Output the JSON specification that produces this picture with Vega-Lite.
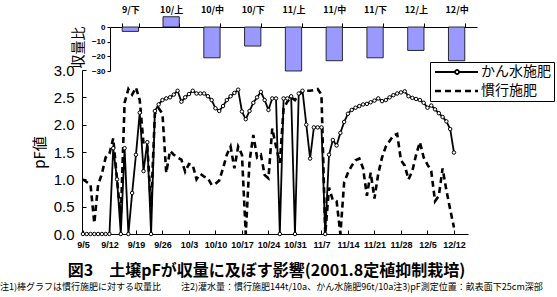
{
  "$schema": "https://vega.github.io/schema/vega-lite/v6.json",
  "width": 386,
  "height": 207,
  "autosize": {"type": "none"},
  "padding": {"left": 82, "top": 27, "right": 89, "bottom": 63},
  "background": "white",
  "config": {
    "view": {"stroke": null},
    "font": "Noto Sans CJK JP",
    "axis": {"domainColor": "black", "tickColor": "black", "labelColor": "black", "titleColor": "black", "grid": false, "labelOverlap": false}
  },
  "title": {
    "text": "注1)棒グラフは慣行施肥に対する収量比　　 注2)灌水量：慣行施肥144t/10a、かん水施肥96t/10a注3)pF測定位置：畝表面下25cm深部",
    "orient": "bottom",
    "anchor": "start",
    "frame": "group",
    "dx": -82,
    "offset": 5,
    "fontSize": 9,
    "fontWeight": "normal",
    "font": "Noto Sans CJK JP",
    "color": "black"
  },
  "datasets": {
    "yield": [
      {"period": "9/下", "ratio": -3},
      {"period": "10/上", "ratio": 7},
      {"period": "10/中", "ratio": -21},
      {"period": "10/下", "ratio": -13},
      {"period": "11/上", "ratio": -30},
      {"period": "11/中", "ratio": -23},
      {"period": "11/下", "ratio": -21},
      {"period": "12/上", "ratio": -16},
      {"period": "12/中", "ratio": -23}
    ],
    "pf": [
      {"date": "2001-09-05", "かん水施肥": 0, "慣行施肥": 1.00},
      {"date": "2001-09-06", "かん水施肥": 0, "慣行施肥": 0.95},
      {"date": "2001-09-07", "かん水施肥": 0, "慣行施肥": 0.90},
      {"date": "2001-09-08", "かん水施肥": 0, "慣行施肥": 0.20},
      {"date": "2001-09-09", "かん水施肥": 0, "慣行施肥": 0.90},
      {"date": "2001-09-10", "かん水施肥": 0, "慣行施肥": 1.10},
      {"date": "2001-09-11", "かん水施肥": 0, "慣行施肥": 1.40},
      {"date": "2001-09-12", "かん水施肥": 0, "慣行施肥": 1.47},
      {"date": "2001-09-13", "かん水施肥": 1.57, "慣行施肥": 1.75},
      {"date": "2001-09-14", "かん水施肥": 1.00, "慣行施肥": 1.00},
      {"date": "2001-09-15", "かん水施肥": 0, "慣行施肥": 0.30},
      {"date": "2001-09-16", "かん水施肥": 1.57, "慣行施肥": 2.40},
      {"date": "2001-09-17", "かん水施肥": 0, "慣行施肥": 2.65},
      {"date": "2001-09-18", "かん水施肥": 0.75, "慣行施肥": 2.55},
      {"date": "2001-09-19", "かん水施肥": 1.45, "慣行施肥": 2.68},
      {"date": "2001-09-20", "かん水施肥": 2.22, "慣行施肥": 2.45},
      {"date": "2001-09-21", "かん水施肥": 1.15, "慣行施肥": 1.65},
      {"date": "2001-09-22", "かん水施肥": 1.68, "慣行施肥": 1.60},
      {"date": "2001-09-23", "かん水施肥": 0, "慣行施肥": 0.50},
      {"date": "2001-09-24", "かん水施肥": 2.25, "慣行施肥": 2.20},
      {"date": "2001-09-25", "かん水施肥": 2.37, "慣行施肥": 2.30},
      {"date": "2001-09-26", "かん水施肥": 2.45, "慣行施肥": 2.20},
      {"date": "2001-09-27", "かん水施肥": 2.48, "慣行施肥": 1.12},
      {"date": "2001-09-28", "かん水施肥": 2.50, "慣行施肥": 1.52},
      {"date": "2001-09-29", "かん水施肥": 2.55, "慣行施肥": 1.45},
      {"date": "2001-09-30", "かん水施肥": 2.62, "慣行施肥": 1.40},
      {"date": "2001-10-01", "かん水施肥": 2.42, "慣行施肥": 1.36},
      {"date": "2001-10-02", "かん水施肥": 2.50, "慣行施肥": 1.14},
      {"date": "2001-10-03", "かん水施肥": 2.56, "慣行施肥": 1.28},
      {"date": "2001-10-04", "かん水施肥": 2.62, "慣行施肥": 1.26},
      {"date": "2001-10-05", "かん水施肥": 2.57, "慣行施肥": 1.00},
      {"date": "2001-10-06", "かん水施肥": 2.57, "慣行施肥": 1.10},
      {"date": "2001-10-07", "かん水施肥": 2.57, "慣行施肥": 1.05},
      {"date": "2001-10-08", "かん水施肥": 2.52, "慣行施肥": 1.02},
      {"date": "2001-10-09", "かん水施肥": 2.45, "慣行施肥": 0.90},
      {"date": "2001-10-10", "かん水施肥": 2.30, "慣行施肥": 0.92},
      {"date": "2001-10-11", "かん水施肥": 2.25, "慣行施肥": 0.98},
      {"date": "2001-10-12", "かん水施肥": 2.34, "慣行施肥": 1.20},
      {"date": "2001-10-13", "かん水施肥": 2.45, "慣行施肥": 1.45},
      {"date": "2001-10-14", "かん水施肥": 2.52, "慣行施肥": 1.60},
      {"date": "2001-10-15", "かん水施肥": 2.58, "慣行施肥": 1.20},
      {"date": "2001-10-16", "かん水施肥": 2.64, "慣行施肥": 1.60},
      {"date": "2001-10-17", "かん水施肥": 2.24, "慣行施肥": 1.45},
      {"date": "2001-10-18", "かん水施肥": 2.10, "慣行施肥": 0.00},
      {"date": "2001-10-19", "かん水施肥": 2.25, "慣行施肥": 1.33},
      {"date": "2001-10-20", "かん水施肥": 2.40, "慣行施肥": 1.81},
      {"date": "2001-10-21", "かん水施肥": 2.50, "慣行施肥": 1.40},
      {"date": "2001-10-22", "かん水施肥": 2.60, "慣行施肥": 1.45},
      {"date": "2001-10-23", "かん水施肥": 2.45, "慣行施肥": 1.08},
      {"date": "2001-10-24", "かん水施肥": 2.27, "慣行施肥": 1.02},
      {"date": "2001-10-25", "かん水施肥": 2.48, "慣行施肥": 1.93},
      {"date": "2001-10-26", "かん水施肥": 2.48, "慣行施肥": 1.60},
      {"date": "2001-10-27", "かん水施肥": 0, "慣行施肥": 1.30},
      {"date": "2001-10-28", "かん水施肥": 2.48, "慣行施肥": 2.30},
      {"date": "2001-10-29", "かん水施肥": 2.48, "慣行施肥": 2.42},
      {"date": "2001-10-30", "かん水施肥": 2.52, "慣行施肥": 2.50},
      {"date": "2001-10-31", "かん水施肥": 0, "慣行施肥": 2.45},
      {"date": "2001-11-01", "かん水施肥": 2.57, "慣行施肥": 2.55},
      {"date": "2001-11-02", "かん水施肥": 2.62, "慣行施肥": 2.60},
      {"date": "2001-11-03", "かん水施肥": 2.00, "慣行施肥": 2.62},
      {"date": "2001-11-04", "かん水施肥": 1.38, "慣行施肥": 2.62},
      {"date": "2001-11-05", "かん水施肥": 1.95, "慣行施肥": 2.63},
      {"date": "2001-11-06", "かん水施肥": 1.95, "慣行施肥": 2.65},
      {"date": "2001-11-07", "かん水施肥": 1.95, "慣行施肥": 2.55},
      {"date": "2001-11-08", "かん水施肥": 0, "慣行施肥": 0.00},
      {"date": "2001-11-09", "かん水施肥": 1.45, "慣行施肥": 0.85},
      {"date": "2001-11-10", "かん水施肥": 1.72, "慣行施肥": 0.62},
      {"date": "2001-11-11", "かん水施肥": 1.62, "慣行施肥": 0.60},
      {"date": "2001-11-12", "かん水施肥": 1.85, "慣行施肥": 0.00},
      {"date": "2001-11-13", "かん水施肥": 2.05, "慣行施肥": 0.95},
      {"date": "2001-11-14", "かん水施肥": 2.20, "慣行施肥": 1.12},
      {"date": "2001-11-15", "かん水施肥": 2.27, "慣行施肥": 1.25},
      {"date": "2001-11-16", "かん水施肥": 2.31, "慣行施肥": 1.35},
      {"date": "2001-11-17", "かん水施肥": 2.34, "慣行施肥": 1.38},
      {"date": "2001-11-18", "かん水施肥": 2.37, "慣行施肥": 1.20},
      {"date": "2001-11-19", "かん水施肥": 2.38, "慣行施肥": 0.70},
      {"date": "2001-11-20", "かん水施肥": 2.41, "慣行施肥": 1.12},
      {"date": "2001-11-21", "かん水施肥": 2.44, "慣行施肥": 0.65},
      {"date": "2001-11-22", "かん水施肥": 2.48, "慣行施肥": 1.10},
      {"date": "2001-11-23", "かん水施肥": 2.43, "慣行施肥": 1.40},
      {"date": "2001-11-24", "かん水施肥": 2.45, "慣行施肥": 1.60},
      {"date": "2001-11-25", "かん水施肥": 2.50, "慣行施肥": 1.70},
      {"date": "2001-11-26", "かん水施肥": 2.54, "慣行施肥": 1.80},
      {"date": "2001-11-27", "かん水施肥": 2.57, "慣行施肥": 1.83},
      {"date": "2001-11-28", "かん水施肥": 2.59, "慣行施肥": 1.35},
      {"date": "2001-11-29", "かん水施肥": 2.61, "慣行施肥": 1.25},
      {"date": "2001-11-30", "かん水施肥": 2.52, "慣行施肥": 1.00},
      {"date": "2001-12-01", "かん水施肥": 2.49, "慣行施肥": 1.15},
      {"date": "2001-12-02", "かん水施肥": 2.47, "慣行施肥": 1.45},
      {"date": "2001-12-03", "かん水施肥": 2.45, "慣行施肥": 1.68},
      {"date": "2001-12-04", "かん水施肥": 2.40, "慣行施肥": 1.40},
      {"date": "2001-12-05", "かん水施肥": 2.31, "慣行施肥": 1.27},
      {"date": "2001-12-06", "かん水施肥": 2.35, "慣行施肥": 1.15},
      {"date": "2001-12-07", "かん水施肥": 2.28, "慣行施肥": 0.60},
      {"date": "2001-12-08", "かん水施肥": 2.21, "慣行施肥": 0.70},
      {"date": "2001-12-09", "かん水施肥": 2.14, "慣行施肥": 1.20},
      {"date": "2001-12-10", "かん水施肥": 2.06, "慣行施肥": 0.80},
      {"date": "2001-12-11", "かん水施肥": 1.92, "慣行施肥": 0.45},
      {"date": "2001-12-12", "かん水施肥": 1.49, "慣行施肥": 0.12}
    ]
  },
  "layer": [
    {
      "data": {"name": "yield"},
      "mark": {"type": "bar", "fill": "#9999ff", "stroke": "black", "strokeWidth": 0.8},
      "encoding": {
        "x": {
          "field": "period", "type": "nominal", "sort": null,
          "scale": {"domain": ["9/下", "10/上", "10/中", "10/下", "11/上", "11/中", "11/下", "12/上", "12/中"], "range": [28, 395], "paddingInner": 0.6, "paddingOuter": 0.3},
          "axis": {"orient": "top", "title": null, "labelAngle": 0, "labelFontSize": 9, "labelFontWeight": "bold", "labelFont": "Noto Sans CJK JP", "labelPadding": 9, "tickSize": 4, "tickBand": "extent"}
        },
        "y": {
          "field": "ratio", "type": "quantitative",
          "scale": {"domain": [-30, 0], "range": [44, 0], "nice": false},
          "axis": {"orient": "left", "offset": -28, "values": [0, -10, -20, -30], "labelOverlap": false, "labelFontSize": 8, "labelFontWeight": "bold", "labelFont": "Liberation Sans", "labelPadding": 2, "tickSize": 3, "title": "収量比", "titleY": 20, "titleFontSize": 14, "titleFontWeight": "normal", "titlePadding": 6}
        }
      }
    },
    {
      "data": {"name": "pf"},
      "transform": [{"fold": ["慣行施肥", "かん水施肥"], "as": ["series", "pF"]}],
      "encoding": {
        "x": {
          "field": "date", "type": "temporal",
          "scale": {"type": "utc", "nice": false, "domain": [{"year": 2001, "month": 9, "date": 4, "hours": 18, "utc": true}, {"year": 2001, "month": 12, "date": 15, "hours": 17, "utc": true}]},
          "axis": {
            "orient": "bottom",
            "values": [
              {"year": 2001, "month": 9, "date": 5, "utc": true},
              {"year": 2001, "month": 9, "date": 12, "utc": true},
              {"year": 2001, "month": 9, "date": 19, "utc": true},
              {"year": 2001, "month": 9, "date": 26, "utc": true},
              {"year": 2001, "month": 10, "date": 3, "utc": true},
              {"year": 2001, "month": 10, "date": 10, "utc": true},
              {"year": 2001, "month": 10, "date": 17, "utc": true},
              {"year": 2001, "month": 10, "date": 24, "utc": true},
              {"year": 2001, "month": 10, "date": 31, "utc": true},
              {"year": 2001, "month": 11, "date": 7, "utc": true},
              {"year": 2001, "month": 11, "date": 14, "utc": true},
              {"year": 2001, "month": 11, "date": 21, "utc": true},
              {"year": 2001, "month": 11, "date": 28, "utc": true},
              {"year": 2001, "month": 12, "date": 5, "utc": true},
              {"year": 2001, "month": 12, "date": 12, "utc": true}
            ],
            "format": "%-m/%-d",
            "labelOverlap": false,
            "labelFlush": false,
            "labelFontSize": 9,
            "labelFontWeight": "bold",
            "labelFont": "Liberation Sans",
            "labelPadding": 10,
            "tickSize": -4,
            "title": "図3　土壌pFが収量に及ぼす影響(2001.8定植抑制栽培)",
            "titleFont": "Noto Sans CJK JP",
            "titleFontSize": 16,
            "titleFontWeight": "bold",
            "titlePadding": 13,
            "titleX": 184
          }
        },
        "y": {
          "field": "pF", "type": "quantitative",
          "scale": {"domain": [0, 3], "range": [207, 43], "nice": false, "zero": false},
          "axis": {"orient": "left", "values": [0, 0.5, 1, 1.5, 2, 2.5, 3], "labelOverlap": false, "format": ".1f", "labelFontSize": 15, "labelFont": "Liberation Sans", "labelPadding": 12, "tickSize": -4, "title": "pF値", "titleFontSize": 15, "titleFontWeight": "normal", "titlePadding": 6}
        }
      },
      "layer": [
        {
          "mark": {"type": "line", "color": "black", "strokeCap": "butt"},
          "encoding": {
            "strokeDash": {
              "field": "series", "type": "nominal",
              "scale": {"domain": ["かん水施肥", "慣行施肥"], "range": [[1, 0], [6, 4]]},
              "legend": {
                "title": null,
                "orient": "none",
                "legendX": 348,
                "legendY": 35,
                "strokeColor": "black",
                "fillColor": "white",
                "padding": 3,
                "labelFontSize": 14,
                "labelFont": "Noto Sans CJK JP",
                "labelColor": "black",
                "symbolSize": 100,
                "symbolType": "M-1,0H7.6",
                "symbolStrokeColor": "black",
                "symbolFillColor": "white",
                "labelOffset": 34,
                "rowPadding": 5,
                "encode": {
                  "symbols": {
                    "update": {
                      "shape": {"signal": "datum.value === 'かん水施肥' ? 'M-1,0H3M3.8,0H7.6M3.8,0A0.4,0.4,0,1,0,3,0A0.4,0.4,0,1,0,3.8,0' : 'M-1,0H7.6'"},
                      "strokeWidth": {"signal": "datum.value === '慣行施肥' ? 3 : 1.6"}
                    }
                  }
                }
              }
            },
            "strokeWidth": {
              "field": "series", "type": "nominal",
              "scale": {"domain": ["かん水施肥", "慣行施肥"], "range": [1.8, 2.6]},
              "legend": null
            }
          }
        },
        {
          "transform": [{"filter": "datum.series === 'かん水施肥'"}],
          "mark": {"type": "point", "shape": "circle", "filled": true, "fill": "white", "stroke": "black", "strokeWidth": 1, "size": 12, "opacity": 1}
        }
      ]
    }
  ],
  "resolve": {"scale": {"x": "independent", "y": "independent"}, "axis": {"x": "independent", "y": "independent"}}
}
